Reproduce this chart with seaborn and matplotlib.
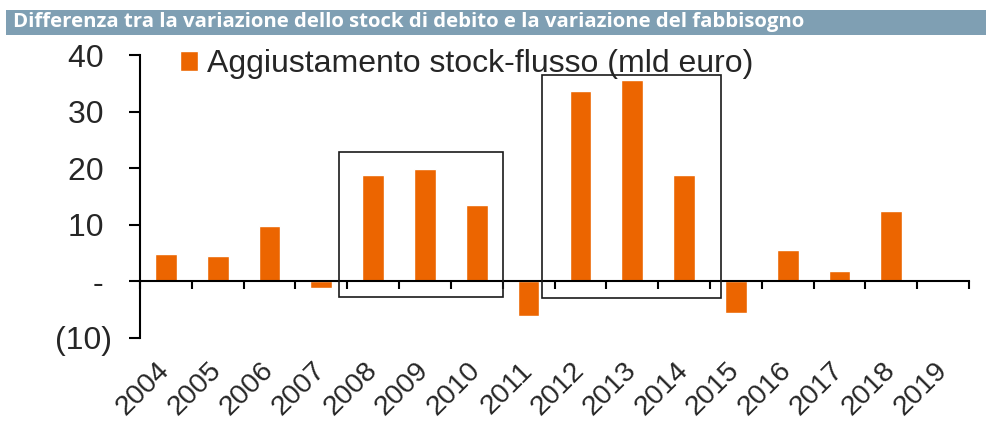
import numpy as np
import pandas as pd
import seaborn as sns
import matplotlib.pyplot as plt
from matplotlib.patches import Rectangle
from matplotlib.ticker import FuncFormatter, FixedLocator

# data
years = ["2004", "2005", "2006", "2007", "2008", "2009", "2010", "2011",
         "2012", "2013", "2014", "2015", "2016", "2017", "2018", "2019"]
sfa = [4.8, 4.5, 9.7, -1.2, 18.8, 19.8, 13.5, -6.2,
       33.6, 35.6, 18.8, -5.6, 5.5, 1.8, 12.5, 0.1]
y_ticks = [-10, 0, 10, 20, 30, 40]

title = "Differenza tra la variazione dello stock di debito e la variazione del fabbisogno"
series_label = "Aggiustamento stock-flusso (mld euro)"

ORANGE = "#EC6500"
BAR_BG = "#7F9FB3"

sns.set_theme(style="white")
plt.rcParams['font.family'] = ['Liberation Sans', 'DejaVu Sans']

df = pd.DataFrame({"anno": years, "valore": sfa})

fig = plt.figure(figsize=(9.87, 4.23), dpi=100)
ax = fig.add_axes([140 / 987, 85 / 423, 829 / 987, 283 / 423])

sns.barplot(data=df, x="anno", y="valore", order=years, color=ORANGE,
            width=0.42, saturation=1, label=series_label, ax=ax)

ax.set_xlim(-0.5, len(years) - 0.5)
ax.set_ylim(-10, 40)
ax.set_xlabel("")
ax.set_ylabel("")

# y axis: left spine with outward ticks, Excel-like accounting labels
for s in ["top", "right"]:
    ax.spines[s].set_visible(False)
ax.spines["left"].set_linewidth(1.5)
ax.spines["left"].set_color("black")
ax.set_yticks(y_ticks)


def acc_fmt(v, pos):
    if v < 0:
        return "(%d)" % abs(v)
    if v == 0:
        return "- "
    return "%d " % v


ax.yaxis.set_major_formatter(FuncFormatter(acc_fmt))
ax.tick_params(axis="y", direction="out", length=8, width=1.5, color="black",
               labelsize=23, pad=12, left=True)

# x axis line at zero, tick marks at category boundaries
ax.spines["bottom"].set_position(("data", 0))
ax.spines["bottom"].set_linewidth(1.5)
ax.spines["bottom"].set_color("black")
ax.set_xticks(range(len(years)))
ax.tick_params(axis="x", which="major", length=0, labelbottom=False)
ax.xaxis.set_minor_locator(FixedLocator(np.arange(-0.5, len(years), 1.0)))
ax.tick_params(axis="x", which="minor", direction="out", length=6, width=1.5,
               color="black", bottom=True)

sec = ax.secondary_xaxis(0)
sec.set_xticks(range(len(years)))
sec.set_xticklabels(years)
sec.spines["bottom"].set_visible(False)
sec.tick_params(axis="x", length=0, labelsize=20.5, pad=20.5)
for lab in sec.get_xticklabels():
    lab.set_rotation(45)
    lab.set_ha("right")
    lab.set_va("center")
    lab.set_rotation_mode("anchor")

# highlight boxes
for x0, x1, y0, y1 in [(3.35, 6.51, -2.7, 22.8), (7.25, 10.72, -3.0, 36.4)]:
    ax.add_patch(Rectangle((x0, y0), x1 - x0, y1 - y0, fill=False,
                           edgecolor="#1a1a1a", linewidth=1.2, zorder=5,
                           clip_on=False))

ax.legend(loc="upper left", bbox_to_anchor=(0.033, 1.065), frameon=False,
          fontsize=23, handlelength=0.55, handleheight=0.55, handletextpad=0.3,
          borderaxespad=0)

# title band
fig.patches.append(Rectangle((6 / 987, 388 / 423), 981 / 987, 25 / 423,
                             transform=fig.transFigure, facecolor=BAR_BG,
                             edgecolor="none", zorder=0))
fig.text(13 / 987, 400.5 / 423, title, color="white", fontsize=14.7,
         fontweight="bold", family=["Open Sans", "DejaVu Sans"],
         ha="left", va="center")

fig.savefig("out.png", dpi=100)
